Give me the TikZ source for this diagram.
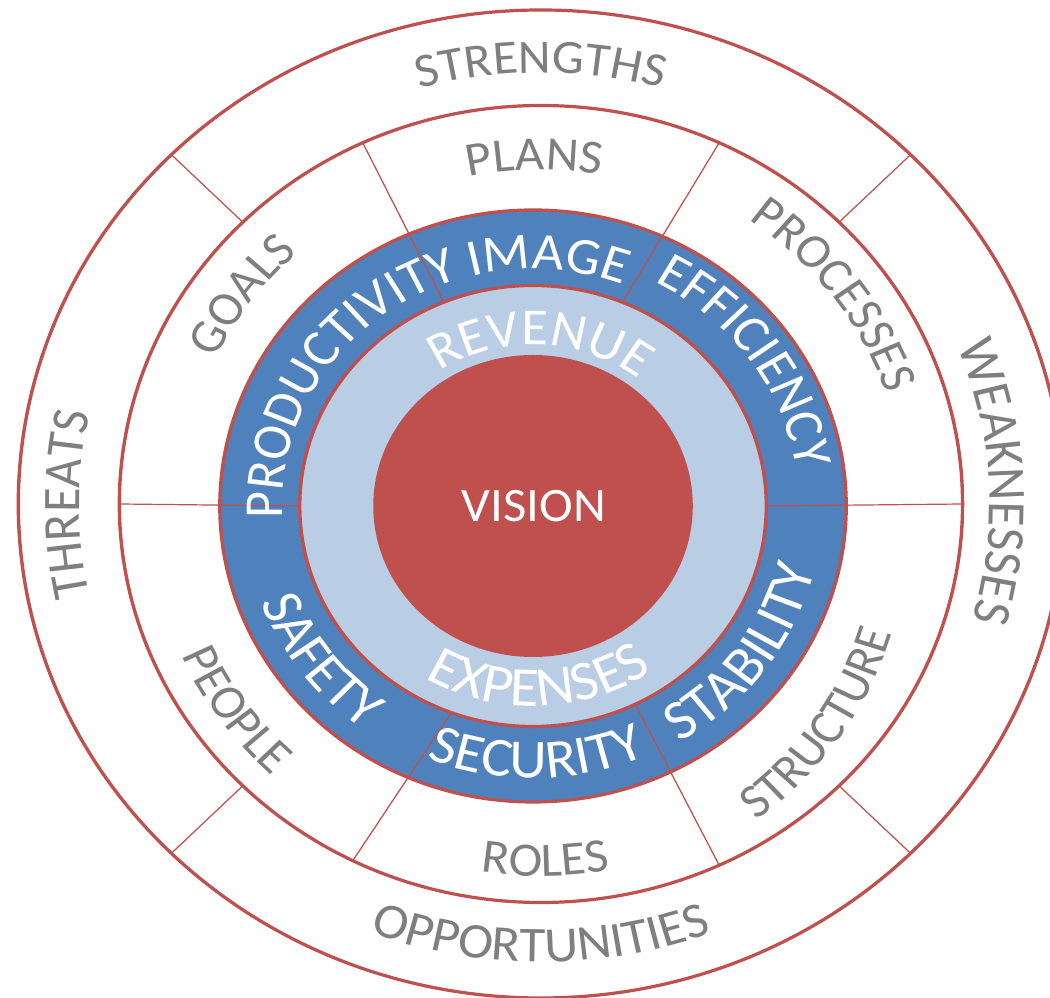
\documentclass[tikz,border=0pt]{standalone}
\usepackage{fontspec}
\setmainfont{Carlito}
\usetikzlibrary{decorations.text}

\definecolor{ringred}{HTML}{C0504D}
\definecolor{ringblue}{HTML}{4F81BD}
\definecolor{paleblue}{HTML}{B9CDE5}
\definecolor{labelgray}{HTML}{7F7F7F}

% label on an arc read clockwise: letters stand away from the arc centre
% #1 centre, #2 middle angle, #3 baseline radius, #4 font size, #5 colour, #6 text
\newcommand\cwlabel[6]{%
  \def\currentlabelfont{\fontsize{#4}{#4}\selectfont}%
  \path[decorate, decoration={text along path, text align=center,
      text color=#5, text={|\currentlabelfont|#6}}]
    (#1) ++(#2+70:#3) arc[start angle=#2+70, end angle=#2-70, radius=#3];}
% label on an arc read counter-clockwise: letters lean towards the arc centre
\newcommand\ccwlabel[6]{%
  \def\currentlabelfont{\fontsize{#4}{#4}\selectfont}%
  \path[decorate, decoration={text along path, text align=center,
      text color=#5, text={|\currentlabelfont|#6}}]
    (#1) ++(#2-70:#3) arc[start angle=#2-70, end angle=#2+70, radius=#3];}

\begin{document}
\begin{tikzpicture}[x=1pt, y=1pt,
    ring/.style={draw=ringred, line width=3.2pt},
    divider/.style={draw=ringred, line width=1.2pt}]
\useasboundingbox (0,0) rectangle (1050,998);
\begin{scope}[transform canvas={xscale=1.058}]
  \coordinate (c1) at (511.3,494);
  \coordinate (c2) at (503.8,492);
  \coordinate (c3) at (493,467);

  % outer SWOT ring and the ring of plans
  \path[ring, fill=white] (c1) circle[radius=494];
  \path[ring, fill=white] (c1) circle[radius=398.5];
  \foreach \a in {45,135,225,315} {
    \path (c1) ++(\a:398.5) coordinate (oin\a);
    \path (c1) ++(\a:494) coordinate (oout\a);
    \draw[divider] (oin\a) -- (oout\a);
  }

  % blue ring of values
  \path[ring, fill=ringblue] (c2) circle[radius=296];
  \foreach \i/\o [count=\k] in {0/0, 67.5/65, 112.5/115, 180/180, 249.5/243.5, 296/295} {
    \path (c2) ++(\i:220.5) coordinate (min\k);
    \path (c1) ++(\o:398.5) coordinate (mout\k);
    \draw[divider] (min\k) -- (mout\k);
  }

  % revenue / expenses ring and the core
  \path[ring, fill=paleblue] (c2) circle[radius=220.5];
  \fill[ringred] (c2) circle[radius=151];

  % outer ring labels
  \cwlabel{c1}{90}{431}{48}{labelgray}{STRENGTHS}
  \ccwlabel{c1}{270}{458}{50}{labelgray}{OPPORTUNITIES}
  \cwlabel{c1}{180}{436}{50}{labelgray}{THREATS}
  \cwlabel{c1}{3}{424}{51}{labelgray}{WEAKNESSES}

  % middle ring labels
  \cwlabel{c1}{91}{334}{48}{labelgray}{PLANS}
  \ccwlabel{c1}{270.7}{372}{48}{labelgray}{ROLES}
  \cwlabel{c1}{143.5}{340}{48}{labelgray}{GOALS}
  \cwlabel{c1}{37}{345}{48}{labelgray}{PROCESSES}
  \ccwlabel{c1}{215.5}{372}{48}{labelgray}{PEOPLE}
  \ccwlabel{c3}{325.6}{365}{48}{labelgray}{STRUCTURE}

  % blue ring labels
  \cwlabel{c2}{126}{237}{52}{white}{PRODUCTIVITY IMAGE}
  \cwlabel{c2}{35.7}{251.5}{52}{white}{EFFICIENCY}
  \ccwlabel{c2}{217.5}{274.5}{55}{white}{SAFETY}
  \ccwlabel{c2}{270.8}{272}{55}{white}{SECURITY}
  \ccwlabel{c2}{323.5}{274}{56}{white}{STABILITY}

  % pale ring labels
  \cwlabel{c2}{87.6}{161}{52}{white}{REVENUE}
  \ccwlabel{c2}{271.9}{200}{56}{white}{EXPENSES}

  \node[text=white, font=\fontsize{48}{58}\selectfont] (vision) at (504.7,492) {VISION};
\end{scope}
\end{tikzpicture}
\end{document}
